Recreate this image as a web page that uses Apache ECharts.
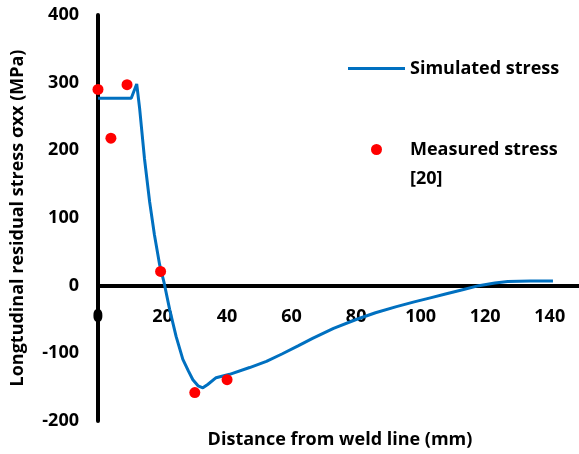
<!DOCTYPE html>
<html>
<head>
<meta charset="utf-8">
<script src="https://cdn.jsdelivr.net/npm/echarts@6/dist/echarts.min.js"></script>
<style>
  html, body { margin: 0; padding: 0; background: #fff; }
  #chart { width: 579px; height: 454px; }
</style>
</head>
<body>
<div id="chart"></div>
<script>
// simulated stress along the plate, [distance mm, stress MPa]
const simDistance = [0, 5, 10.3, 12, 12.9, 14.4, 16, 17.5, 19.1, 20.5, 22.2, 24.2, 26.3, 28, 29.4, 31, 32.5, 34, 36.6, 40.8, 47, 52.2, 57, 62, 66.5, 73, 80, 86, 92.5, 98, 103, 108, 113, 118, 123, 127, 134, 141]
const simStress = [277, 277, 277, 298, 262, 188, 124, 75, 31, 4, -35, -75, -109, -126, -139, -148, -151, -146, -136, -131, -121, -112, -101, -89, -78, -63, -50, -40, -31, -24, -18, -12, -6, 0, 4, 6, 7, 7]
// measured stress [20]
const measDistance = [0, 4, 9, 19.4, 30, 40]
const measStress = [290, 218, 297, 21, -158, -139]

const xTicks = { min: 0, max: 150, interval: 20 }
const yTicks = { min: -200, max: 400, interval: 100 }

const simName = 'Simulated stress'
const measName = 'Measured stress [20]'

const font = '"Open Sans", sans-serif'
const chart = echarts.init(document.getElementById('chart'))

const option = {
    animation: false,
    textStyle: { fontFamily: font },
    grid: {
        left: 98,
        right: -3,
        top: 15,
        bottom: 33,
        outerBoundsMode: 'none'
    },
    legend: {
        orient: 'vertical',
        left: 343,
        top: 49,
        itemWidth: 57,
        itemHeight: 11,
        itemGap: 23,
        textStyle: {
            fontFamily: font,
            fontSize: 18,
            fontWeight: 'bold',
            color: '#000',
            lineHeight: 29
        },
        // keep "[20]" on a second line under the name, first line level with the dot
        formatter: name => name === measName ? ' \nMeasured stress\n[20]' : name,
        data: [
            { name: simName, icon: 'path://M0,0 H57 V3 H0 Z' },
            { name: measName, icon: 'circle' }
        ]
    },
    xAxis: {
        type: 'value',
        min: xTicks.min,
        max: xTicks.max,
        interval: xTicks.interval,
        name: 'Distance from weld line (mm)',
        nameLocation: 'middle',
        nameGap: 10,
        nameTextStyle: { fontSize: 18, fontWeight: 'bold', color: '#000' },
        axisLine: { onZero: true, lineStyle: { color: '#000', width: 4 } },
        axisTick: { show: false },
        splitLine: { show: false },
        axisLabel: {
            fontSize: 18,
            fontWeight: 'bold',
            color: '#000',
            // labels sit just under the zero line, not at the plot bottom
            margin: -113,
            showMaxLabel: false
        }
    },
    yAxis: {
        type: 'value',
        min: yTicks.min,
        max: yTicks.max,
        interval: yTicks.interval,
        name: 'Longtudinal residual stress σxx (MPa)',
        nameLocation: 'middle',
        nameGap: 71,
        nameTextStyle: { fontSize: 18, fontWeight: 'bold', color: '#000' },
        axisLine: { onZero: false, lineStyle: { color: '#000', width: 4 } },
        axisTick: { show: false },
        splitLine: { show: false },
        axisLabel: {
            fontSize: 18,
            fontWeight: 'bold',
            color: '#000',
            margin: 19
        }
    },
    series: [
        {
            name: simName,
            type: 'line',
            symbol: 'none',
            smooth: false,
            lineStyle: { color: '#0070C0', width: 3 },
            itemStyle: { color: '#0070C0' },
            data: simDistance.map((d, i) => [d, simStress[i]]),
            z: 3
        },
        {
            name: measName,
            type: 'scatter',
            symbol: 'circle',
            symbolSize: 11,
            itemStyle: { color: '#FF0000', opacity: 1 },
            data: measDistance.map((d, i) => [d, measStress[i]]),
            z: 4
        }
    ]
}
chart.setOption(option)
</script>
</body>
</html>
